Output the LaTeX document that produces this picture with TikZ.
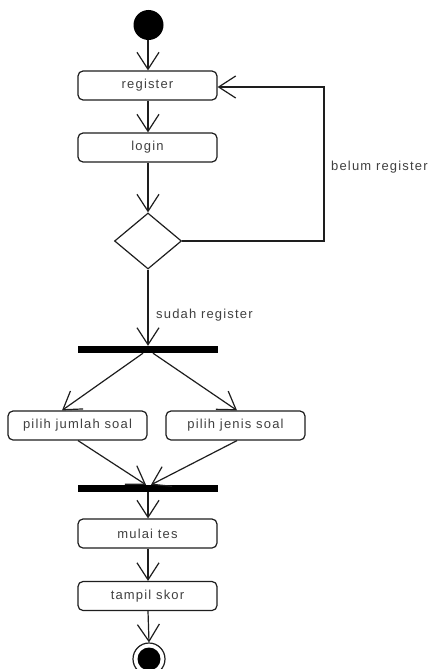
\documentclass[tikz,border=0pt]{standalone}
\usepackage{fontspec}
\newfontfamily\diafont[LetterSpace=9]{Liberation Sans}
\usetikzlibrary{shapes.geometric,arrows.meta}
\definecolor{ln}{HTML}{1E1E1E}
\definecolor{tx}{HTML}{404040}
\tikzset{
  x=1pt, y=-1pt,
  act/.style={draw=ln, line width=1.2pt, rounded corners=5pt, minimum width=139pt, minimum height=29pt, inner sep=0pt, text=tx, font=\diafont\fontsize{13}{15}\selectfont},
  bar/.style={fill=black, minimum width=140pt, minimum height=7pt, inner sep=0pt},
  dec/.style={draw=ln, line width=1.2pt, diamond, aspect=1.2, minimum width=67pt, minimum height=56pt, inner sep=0pt},
  flow/.style={draw=ln, line width=1.2pt, -{Straight Barb[length=17pt,width=22pt,line width=1.2pt]}},
  lbl/.style={text=tx, font=\diafont\fontsize{13}{15}\selectfont, inner sep=0pt, anchor=west}
}
\begin{document}
\begin{tikzpicture}
\useasboundingbox (0,0) rectangle (430,669);
\fill[white] (0,0) rectangle (430,669);
\node[circle, fill=black, minimum size=30pt, inner sep=0pt] (start) at (148.5,25) {};
\node[act] (register) at (147.5,85.5) {register};
\node[act] (login) at (147.5,147.5) {login};
\node[dec] (dec) at (148,241) {};
\node[bar] (bar1) at (148,349.5) {};
\node[act] (jumlah) at (77.5,425.5) {pilih jumlah soal};
\node[act] (jenis) at (235.5,425.5) {pilih jenis soal};
\node[bar] (bar2) at (148,488.5) {};
\node[act] (mulai) at (147.5,533.5) {mulai tes};
\node[act] (tampil) at (147.5,596) {tampil skor};
\node[circle, draw=ln, line width=1.2pt, minimum size=32pt, inner sep=0pt] (endo) at (149,659) {};
\node[circle, fill=black, minimum size=23pt, inner sep=0pt] (endi) at (149,659) {};
\coordinate (loopA) at (324,241);
\coordinate (loopB) at (324,87);
\node[lbl] (belum) at (331,167) {belum register};
\node[lbl] (sudah) at (156,315) {sudah register};

\draw[flow] (start.south -| 148,0) -- (register.north -| 148,0);
\draw[flow] (register.south -| 148,0) -- (login.north -| 148,0);
\draw[flow] (login.south -| 148,0) -- (dec.north);
\draw[flow] (dec.east) -- (loopA) -- (loopB) -- (register.east |- loopB);
\draw[flow] (dec.south) -- (bar1.north);
\draw[flow] ([xshift=-5pt]bar1.south) -- ([xshift=-15.5pt]jumlah.north);
\draw[flow] ([xshift=5pt]bar1.south) -- ([xshift=1.5pt]jenis.north);
\draw[flow] ([xshift=0.5pt]jumlah.south) -- ([xshift=-2pt]bar2.north);
\draw[flow] ([xshift=1.5pt]jenis.south) -- ([xshift=3pt]bar2.north);
\draw[flow] (bar2.south) -- (mulai.north -| 148,0);
\draw[flow] (mulai.south -| 148,0) -- (tampil.north -| 148,0);
\draw[flow] (tampil.south -| 148,0) -- (endo.north);
\end{tikzpicture}
\end{document}
